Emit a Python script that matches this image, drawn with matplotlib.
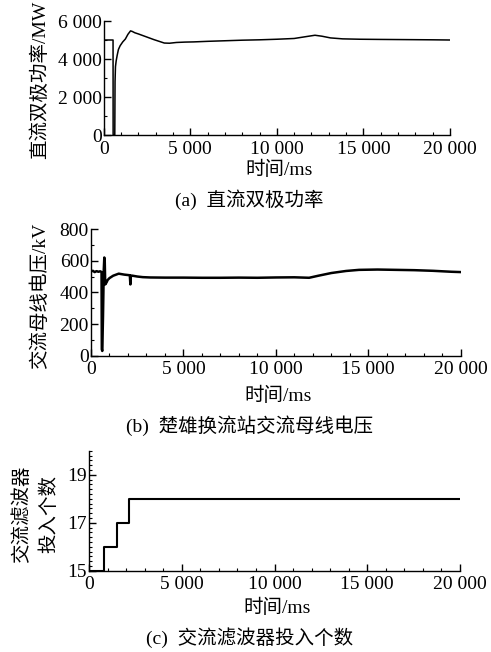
import numpy as np
import matplotlib.pyplot as plt
from matplotlib.ticker import FuncFormatter, MultipleLocator

# (a) DC bipolar power, MW
t_a = [0, 540, 545, 640, 655, 680, 720, 780, 850, 950, 1100, 1250, 1400, 1550, 1650,
       1800, 2000, 2300, 2600, 2900, 3200, 3500, 3800, 4200, 4700, 5200, 6000, 7000,
       8000, 9000, 10000, 11000, 11700, 12200, 12600, 13100, 13800, 14800, 16000,
       17500, 19000, 20000]
p_a = [5000, 5000, 0, 0, 2800, 3600, 3900, 4200, 4500, 4700, 4900, 5050, 5300, 5480, 5450,
       5380, 5320, 5220, 5120, 5020, 4930, 4840, 4830, 4870, 4890, 4900, 4930, 4960,
       4990, 5010, 5040, 5080, 5180, 5250, 5200, 5110, 5060, 5040, 5030,
       5020, 5010, 5000]

# (b) AC bus voltage at Chuxiong converter station, kV
t_b = [0, 100, 200, 300, 400, 500, 570, 585, 610, 650, 690, 720, 745, 770, 800, 850,
       900, 1000, 1200, 1500, 1800, 2100, 2130, 2160, 2200, 2500, 2800, 3200, 4000,
       5000, 6000, 7000, 8000, 9000, 10000, 11000, 11800, 12300, 13000, 13800,
       14500, 15500, 16500, 17500, 18500, 19500, 20000]
v_b = [532, 536, 528, 534, 530, 533, 528, 40, 30, 250, 540, 620, 590, 450, 455, 465,
       478, 490, 505, 518, 512, 508, 450, 505, 506, 500, 496, 494, 493,
       493, 492, 492, 493, 492, 494, 495, 492, 505, 522, 535,
       542, 544, 542, 540, 536, 530, 528]

# (c) number of AC filters switched in
t_c = [0, 800, 1490, 2170, 20000]
n_c = [15, 16, 17, 18, 18]

W, H = 491, 652
fig = plt.figure(figsize=(W / 100, H / 100), dpi=100)
plt.rcParams['font.family'] = ['Liberation Serif', 'Noto Sans CJK SC']
fs = 14      # tick labels
fs_cn = 14   # chinese labels


def add_ax(l, r, t, b):
    return fig.add_axes([l / W, (H - b) / H, (r - l) / W, (b - t) / H])


def thousands(x, pos):
    s = f"{int(round(x)):,}".replace(",", " ")
    return s


def style(ax):
    for s in ['top', 'right']:
        ax.spines[s].set_visible(False)
    for s in ['left', 'bottom']:
        ax.spines[s].set_linewidth(1.0)
    ax.tick_params(which='major', direction='in', length=5, width=1.0, labelsize=fs)
    ax.tick_params(which='minor', direction='in', length=2.5, width=0.8)
    ax.tick_params(axis='x', pad=4)
    ax.tick_params(axis='y', pad=1.5)
    ax.set_xlim(0, 20000)
    ax.xaxis.set_major_locator(MultipleLocator(5000))
    ax.xaxis.set_minor_locator(MultipleLocator(1000))
    ax.xaxis.set_major_formatter(FuncFormatter(thousands))


# panel a
ax1 = add_ax(103.7, 450, 21, 135)
ax1.plot(t_a, p_a, color='black', linewidth=1.1)
style(ax1)
ax1.set_ylim(0, 6000)
ax1.yaxis.set_major_locator(MultipleLocator(2000))
ax1.yaxis.set_minor_locator(MultipleLocator(1000))
ax1.yaxis.set_major_formatter(FuncFormatter(thousands))
fig.text(40 / W, 1 - 80 / H, "直流双极功率/MW", rotation=90, ha='center', va='center', fontsize=fs_cn)
fig.text(279 / W, 1 - 170 / H, "时间/ms", ha='center', va='center', fontsize=fs_cn)
fig.text(249 / W, 1 - 200 / H, "(a)  直流双极功率", ha='center', va='center', fontsize=fs_cn)

# panel b
ax2 = add_ax(91, 460.7, 229, 355.7)
ax2.plot(t_b, v_b, color='black', linewidth=1.8)
style(ax2)
ax2.set_ylim(0, 800)
ax2.yaxis.set_major_locator(MultipleLocator(200))
ax2.yaxis.set_minor_locator(MultipleLocator(100))
fig.text(40 / W, 1 - 296 / H, "交流母线电压/kV", rotation=90, ha='center', va='center', fontsize=fs_cn)
fig.text(278 / W, 1 - 396 / H, "时间/ms", ha='center', va='center', fontsize=fs_cn)
fig.text(250 / W, 1 - 426 / H, "(b)  楚雄换流站交流母线电压", ha='center', va='center', fontsize=fs_cn)

# panel c
ax3 = add_ax(89, 460, 450.7, 570.7)
ax3.plot(t_c, n_c, color='black', linewidth=1.5, drawstyle='steps-post')
style(ax3)
ax3.set_ylim(15, 20)
ax3.set_yticks([15, 17, 19])
ax3.yaxis.set_minor_locator(MultipleLocator(0.2))
fig.text(35 / W, 1 - 514 / H, "交流滤波器\n投入个数", rotation=90, ha='center', va='center',
         fontsize=fs_cn, linespacing=1.6)
fig.text(277 / W, 1 - 608 / H, "时间/ms", ha='center', va='center', fontsize=fs_cn)
fig.text(250 / W, 1 - 638 / H, "(c)  交流滤波器投入个数", ha='center', va='center', fontsize=fs_cn)

fig.savefig("out.png", dpi=100)
